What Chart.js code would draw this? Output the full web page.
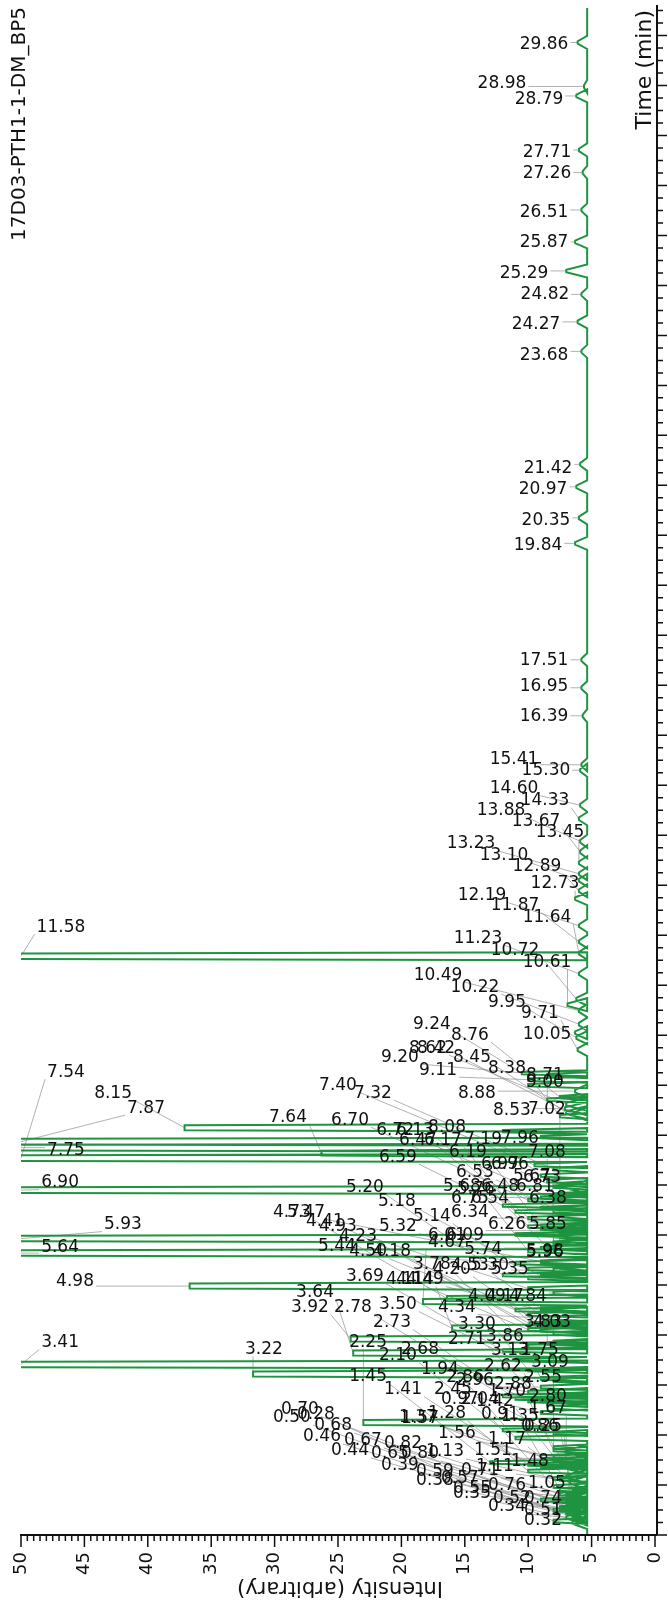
<!DOCTYPE html>
<html>
<head>
<meta charset="utf-8">
<script src="https://cdn.jsdelivr.net/npm/chart.js@4.4.0/dist/chart.umd.min.js"></script>
<style>
  html, body { margin: 0; padding: 0; background: #ffffff; }
</style>
</head>
<body>
<canvas id="grafico" width="668" height="1604"></canvas>
<script>
const tituloMuestra = "17D03-PTH1-1-DM_BP5";
const ejeTiempo = "Time (min)";
const ejeIntensidad = "Intensity (arbitrary)";
const ticksIntensidad = [50, 45, 40, 35, 30, 25, 20, 15, 10, 5, 0];
const lineaBase = 5.35;
const tiempoMax = 30.55;

// tiempo de retencion de cada pico (min)
const peakTimes = [
  29.86, 28.98, 28.79, 27.71, 27.26, 26.51, 25.87, 25.29,
  24.82, 24.27, 23.68, 21.42, 20.97, 20.35, 19.84, 17.51,
  16.95, 16.39, 15.41, 15.30, 14.60, 14.33, 13.88, 13.67,
  13.45, 13.23, 13.10, 12.89, 12.73, 12.19, 11.87, 11.64,
  11.58, 11.23, 10.72, 10.61, 10.49, 10.22, 10.05, 9.95,
  9.71, 9.24, 9.20, 9.11, 9.00, 8.88, 8.76, 8.71,
  8.62, 8.53, 8.45, 8.42, 8.38, 8.15, 8.08, 7.96,
  7.87, 7.75, 7.64, 7.54, 7.40, 7.32, 7.19, 7.08,
  7.02, 6.97, 6.96, 6.90, 6.81, 6.75, 6.73, 6.72,
  6.70, 6.59, 6.54, 6.53, 6.48, 6.47, 6.38, 6.34,
  6.26, 6.19, 6.17, 6.13, 6.09, 6.01, 5.98, 5.96,
  5.93, 5.85, 5.76, 5.74, 5.68, 5.67, 5.64, 5.47,
  5.44, 5.35, 5.32, 5.30, 5.20, 5.18, 5.14, 4.98,
  4.93, 4.84, 4.73, 4.67, 4.53, 4.50, 4.49, 4.41,
  4.34, 4.23, 4.20, 4.18, 4.17, 4.14, 4.11, 4.09,
  4.03, 3.92, 3.86, 3.83, 3.78, 3.69, 3.64, 3.50,
  3.41, 3.30, 3.22, 3.13, 3.09, 2.96, 2.88, 2.86,
  2.80, 2.78, 2.73, 2.71, 2.68, 2.62, 2.55, 2.45,
  2.25, 2.10, 2.04, 1.94, 1.75, 1.70, 1.67, 1.57,
  1.56, 1.51, 1.48, 1.45, 1.42, 1.41, 1.37, 1.35,
  1.28, 1.17, 1.13, 1.11, 1.05, 0.97, 0.91, 0.86,
  0.82, 0.80, 0.76, 0.74, 0.71, 0.70, 0.68, 0.67,
  0.65, 0.59, 0.57, 0.55, 0.52, 0.51, 0.50, 0.46,
  0.44, 0.39, 0.38, 0.35, 0.34, 0.32, 0.28, 0.25,
];

// intensidad del pico (los de 60 salen del grafico)
const peakHeights = [
  6.1, 5.6, 6.2, 6.0, 5.7, 5.8, 6.3, 7.0,
  5.8, 6.1, 5.8, 5.9, 6.2, 6.0, 6.3, 5.8,
  5.8, 5.7, 5.8, 5.9, 5.9, 6.0, 5.9, 5.9,
  6.0, 6.0, 6.0, 6.0, 6.3, 6.0, 6.0, 6.0,
  60, 6.0, 6.2, 6.9, 6.0, 6.0, 6.3, 6.2,
  6.1, 10.5, 8.5, 10, 10, 6.3, 7.5, 8.5,
  7.0, 7.1, 7.0, 6.5, 7.5, 37.1, 12, 9,
  60, 60, 26.3, 60, 9.5, 8, 9, 8.5,
  7.5, 8, 7, 60, 8, 9, 7.5, 8,
  10, 12, 9, 8, 8, 11, 7.5, 10,
  8, 9, 10, 9, 8.5, 11, 8, 7.5,
  60, 8, 8.5, 9, 10, 8, 60, 9,
  11, 7.5, 10, 8, 12, 9, 10, 36.7,
  10, 8, 16.4, 18.3, 9, 11, 9, 10,
  9, 9.9, 9, 10, 8, 16, 10, 9,
  8, 24, 8, 8.5, 10, 12, 23.8, 11,
  60, 10, 31.7, 9, 8, 9, 8, 10,
  7.5, 12, 11, 9, 10, 8.5, 8, 9,
  23, 12, 8, 11, 8, 8, 7, 9,
  8, 8, 7, 13, 7.5, 10, 9, 7,
  10, 7, 8, 7.5, 6.7, 8, 7.5, 6.5,
  7.5, 7, 7, 6.8, 7, 9, 8, 7.5,
  7, 7, 7, 7.5, 7, 7.5, 8, 7,
  7, 6.5, 6.5, 7, 6.5, 6.5, 8, 6.5,
];

// donde queda el centro de cada etiqueta (intensidad, tiempo)
const labelIntensity = [
  8.75, 12.07, 9.15, 8.52, 8.52, 8.75, 8.75, 10.33,
  8.68, 9.38, 8.75, 8.44, 8.83, 8.60, 9.23, 8.75,
  8.75, 8.75, 11.12, 8.60, 11.12, 8.68, 12.14, 9.38,
  7.49, 14.51, 11.91, 9.31, 7.89, 13.64, 11.04, 8.52,
  46.85, 13.96, 11.04, 8.52, 17.11, 14.20, 8.52, 11.67,
  9.07, 17.59, 20.11, 17.11, 8.68, 14.04, 14.59, 8.68,
  17.90, 11.28, 14.43, 17.27, 11.67, 42.74, 16.40, 10.65,
  40.14, 46.45, 28.94, 46.45, 25.0, 22.24, 13.56, 8.52,
  8.52, 12.22, 11.44, 46.92, 9.46, 14.59, 8.91, 20.50,
  24.05, 20.27, 13.01, 14.20, 12.22, 18.69, 8.44, 14.59,
  11.67, 14.75, 16.72, 18.93, 14.98, 16.40, 8.68, 8.68,
  41.96, 8.44, 14.12, 13.56, 15.22, 9.70, 46.92, 27.52,
  25.08, 11.44, 20.27, 13.01, 22.87, 20.35, 17.59, 45.74,
  25.0, 10.02, 28.63, 16.40, 14.59, 22.63, 18.14, 26.03,
  15.62, 23.42, 16.01, 20.74, 11.83, 18.93, 19.72, 13.25,
  8.12, 27.21, 11.83, 8.83, 17.59, 22.87, 26.81, 20.27,
  46.92, 14.04, 30.84, 11.44, 8.28, 14.20, 11.20, 14.98,
  8.44, 23.82, 20.74, 14.83, 18.53, 11.99, 8.83, 15.93,
  22.63, 20.27, 13.80, 16.96, 9.07, 11.67, 8.44, 18.53,
  15.62, 12.78, 9.86, 22.63, 12.62, 19.87, 18.69, 10.65,
  16.40, 11.67, 16.56, 12.62, 8.52, 15.38, 12.22, 9.07,
  19.87, 18.53, 11.67, 8.83, 13.80, 28.0, 25.39, 23.03,
  20.90, 17.35, 15.38, 14.43, 11.28, 8.83, 28.63, 26.26,
  24.05, 20.11, 17.35, 14.43, 11.67, 8.83, 26.74, 8.83,
];

const labelTime = [
  29.82, 29.04, 28.72, 27.66, 27.23, 26.45, 25.85, 25.23,
  24.81, 24.21, 23.59, 21.34, 20.92, 20.30, 19.80, 17.50,
  16.97, 16.37, 15.51, 15.29, 14.93, 14.69, 14.49, 14.27,
  14.05, 13.83, 13.59, 13.37, 13.03, 12.79, 12.59, 12.36,
  12.16, 11.94, 11.70, 11.46, 11.20, 10.96, 10.02, 10.66,
  10.44, 10.22, 9.56, 9.30, 9.06, 8.84, 10.00, 9.20,
  9.74, 8.50, 9.56, 9.74, 9.34, 8.84, 8.16, 7.94,
  8.54, 7.70, 8.36, 9.26, 9.00, 8.84, 7.92, 7.66,
  8.52, 7.41, 7.41, 7.05, 6.97, 6.73, 7.15, 8.10,
  8.30, 7.56, 6.73, 7.25, 6.97, 7.90, 6.73, 6.45,
  6.21, 7.66, 7.90, 8.10, 5.99, 5.99, 5.67, 5.65,
  6.21, 6.21, 6.91, 5.71, 6.97, 7.17, 5.75, 6.45,
  5.77, 5.31, 6.17, 5.39, 6.95, 6.67, 6.37, 5.07,
  6.17, 4.77, 6.45, 5.85, 5.39, 5.67, 5.11, 6.27,
  4.55, 5.97, 5.31, 5.67, 4.77, 5.11, 5.11, 4.77,
  4.25, 4.55, 3.97, 4.25, 5.41, 5.17, 4.85, 4.61,
  3.85, 4.21, 3.71, 3.69, 3.45, 3.09, 3.01, 3.15,
  2.77, 4.55, 4.25, 3.91, 3.71, 3.37, 3.15, 2.91,
  3.85, 3.59, 2.71, 3.31, 3.69, 2.87, 2.53, 2.32,
  2.02, 1.68, 1.46, 3.17, 2.67, 2.91, 2.34, 2.36,
  2.42, 1.90, 1.66, 1.36, 1.02, 2.71, 2.40, 2.16,
  1.82, 1.62, 0.98, 0.72, 1.28, 2.51, 2.18, 1.88,
  1.62, 1.26, 1.12, 0.92, 0.72, 0.48, 2.34, 1.96,
  1.68, 1.38, 1.08, 0.82, 0.56, 0.28, 2.40, 2.16,
];

const verde = "#1f9440";
const gris = "rgba(140, 140, 140, 0.75)";
const fuente = "DejaVu Sans";
const fuenteEtiqueta = "17px " + fuente;

// traza del cromatograma: cada pico sube desde la linea base y vuelve
const armarTraza = () => {
  const orden = peakTimes.map((t, i) => i).sort((a, b) => peakTimes[a] - peakTimes[b]);
  const puntos = [{ x: lineaBase, y: 0 }];
  for (const i of orden) {
    const t = peakTimes[i];
    const h = peakHeights[i];
    const ancho = h > 15 ? 0.08 : h > 7.2 ? 0.06 : 0.13;
    const punta = h > 15 ? 0.05 : 0.025;
    puntos.push({ x: lineaBase, y: t - ancho });
    puntos.push({ x: h, y: t - punta });
    puntos.push({ x: h, y: t + punta });
    puntos.push({ x: lineaBase, y: t + ancho });
  }
  puntos.push({ x: lineaBase, y: tiempoMax });
  return puntos;
};

const cajaEtiqueta = (ctx, chart, i) => {
  const xs = chart.scales.x;
  const ys = chart.scales.y;
  const texto = peakTimes[i].toFixed(2);
  const cx = xs.getPixelForValue(labelIntensity[i]);
  const cy = ys.getPixelForValue(labelTime[i]);
  const w = ctx.measureText(texto).width;
  return { texto, cx, cy, x0: cx - w / 2 - 2, x1: cx + w / 2 + 2, y0: cy - 7, y1: cy + 7 };
};

const marco = {
  id: "marco",
  beforeDatasetsDraw(chart) {
    const ctx = chart.ctx;
    const xs = chart.scales.x;
    const ys = chart.scales.y;
    ctx.save();
    ctx.font = fuenteEtiqueta;
    ctx.strokeStyle = gris;
    ctx.lineWidth = 0.9;
    for (let i = 0; i < peakTimes.length; i++) {
      const c = cajaEtiqueta(ctx, chart, i);
      const px = xs.getPixelForValue(Math.min(peakHeights[i], 50));
      const py = ys.getPixelForValue(peakTimes[i]);
      const ax = Math.min(Math.max(px, c.x0), c.x1);
      const ay = Math.min(Math.max(py, c.y0), c.y1);
      ctx.beginPath();
      ctx.moveTo(ax, ay);
      ctx.lineTo(px, py);
      ctx.stroke();
    }
    ctx.restore();
  },
  afterDatasetsDraw(chart) {
    const ctx = chart.ctx;
    const area = chart.chartArea;
    const xs = chart.scales.x;
    const ys = chart.scales.y;
    ctx.save();

    // etiquetas de los picos
    ctx.font = fuenteEtiqueta;
    ctx.fillStyle = "#111111";
    ctx.textAlign = "center";
    ctx.textBaseline = "middle";
    for (let i = 0; i < peakTimes.length; i++) {
      const c = cajaEtiqueta(ctx, chart, i);
      ctx.fillText(c.texto, c.cx, c.cy);
    }

    // ejes
    const ejeY = area.bottom;
    const ejeX = area.right + 2;
    ctx.strokeStyle = "#111111";
    ctx.lineWidth = 2;
    ctx.beginPath();
    ctx.moveTo(area.left - 1, ejeY);
    ctx.lineTo(ejeX, ejeY);
    ctx.moveTo(ejeX, ejeY);
    ctx.lineTo(ejeX, area.top - 3);
    ctx.stroke();

    ctx.lineWidth = 1.5;
    ctx.beginPath();
    for (let v = 0; v <= 50; v += 0.5) {
      const x = xs.getPixelForValue(v);
      const largo = v % 5 === 0 ? 12 : 6;
      ctx.moveTo(x, ejeY);
      ctx.lineTo(x, ejeY + largo);
    }
    for (let k = 0; k <= tiempoMax * 4; k++) {
      const y = ys.getPixelForValue(k / 4);
      const largo = k % 4 === 0 ? 10 : 6;
      ctx.moveTo(ejeX, y);
      ctx.lineTo(ejeX + largo, y);
    }
    ctx.stroke();

    // numeros del eje de intensidad, girados
    ctx.fillStyle = "#111111";
    ctx.font = "18px " + fuente;
    ctx.textAlign = "right";
    ctx.textBaseline = "middle";
    for (const v of ticksIntensidad) {
      ctx.save();
      ctx.translate(xs.getPixelForValue(v), ejeY + 17);
      ctx.rotate(-Math.PI / 2);
      ctx.fillText(String(v), 0, 0);
      ctx.restore();
    }

    // titulos
    ctx.font = "20px " + fuente;
    ctx.save();
    ctx.translate(20, 7);
    ctx.rotate(-Math.PI / 2);
    ctx.textAlign = "right";
    ctx.fillText(tituloMuestra, 0, 0);
    ctx.restore();

    ctx.font = "22px " + fuente;
    ctx.save();
    ctx.translate(645, 10);
    ctx.rotate(-Math.PI / 2);
    ctx.textAlign = "right";
    ctx.fillText(ejeTiempo, 0, 0);
    ctx.restore();

    ctx.font = "21px " + fuente;
    ctx.save();
    ctx.translate(340, 1587);
    ctx.rotate(Math.PI);
    ctx.textAlign = "center";
    ctx.fillText(ejeIntensidad, 0, 0);
    ctx.restore();

    ctx.restore();
  },
};

document.addEventListener("DOMContentLoaded", () => {
  const grafico = document.getElementById("grafico").getContext("2d");
  const myChart = new Chart(grafico, {
    type: "scatter",
    data: {
      datasets: [
        {
          data: armarTraza(),
          showLine: true,
          borderColor: verde,
          borderWidth: 2,
          pointRadius: 0,
          tension: 0,
        },
      ],
    },
    options: {
      responsive: false,
      animation: false,
      devicePixelRatio: 1,
      layout: { padding: { left: 21, right: 13, top: 8, bottom: 69 } },
      scales: {
        x: { type: "linear", min: 0, max: 50, reverse: true, display: false },
        y: { type: "linear", min: 0, max: tiempoMax, display: false },
      },
      plugins: {
        legend: { display: false },
        tooltip: { enabled: false },
      },
    },
    plugins: [marco],
  });
});
</script>
</body>
</html>
